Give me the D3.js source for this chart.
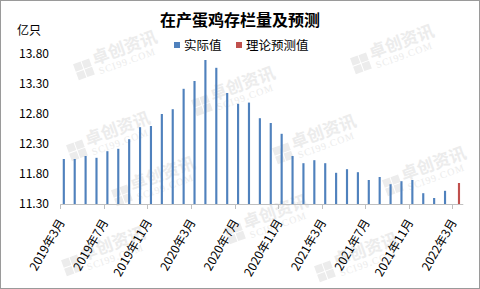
<!DOCTYPE html>
<html>
<head>
<meta charset="utf-8">
<script src="https://cdn.jsdelivr.net/npm/d3@7"></script>
<style>
  body { margin: 0; background: #fff; }
  svg { display: block; }
</style>
</head>
<body>
<div id="chart"></div>
<script>
// data
var months = [];
for (var y = 2019; y <= 2022; y++) {
  for (var m = 1; m <= 12; m++) {
    if ((y == 2019 && m < 3) || (y == 2022 && m > 3)) continue;
    months.push(y + "年" + m + "月");
  }
}
var actualValues = [12.05, 12.05, 12.10, 12.07, 12.18, 12.22, 12.38, 12.58, 12.60, 12.80,
  12.88, 13.22, 13.35, 13.70, 13.57, 13.15, 12.97, 12.99, 12.73, 12.65,
  12.47, 12.10, 11.98, 12.03, 11.98, 11.82, 11.88, 11.83, 11.70, 11.75,
  11.63, 11.68, 11.70, 11.48, 11.40, 11.52, null];
var forecastValues = [];
for (var i = 0; i < 36; i++) forecastValues.push(null);
forecastValues.push(11.65);
var seriesNames = ["实际值", "理论预测值"];
var seriesColors = ["#4f81bd", "#c0504d"];
var yTicks = [11.30, 11.80, 12.30, 12.80, 13.30, 13.80];

var width = 480, height = 289;
var font = "'Noto Sans CJK SC', 'Noto Sans', sans-serif";

var svg = d3.select("#chart").append("svg")
  .attr("width", width)
  .attr("height", height)
  .style("font-family", font);

svg.append("rect")
  .attr("x", 0.5).attr("y", 0.5)
  .attr("width", width - 1).attr("height", height - 1)
  .attr("fill", "#fff")
  .attr("stroke", "#9a9a9a");

// faint watermarks (only the ones fully inside the frame)
var marks = [[119, 56], [396, 50], [237, 92], [112, 137], [318, 140],
  [157, 182], [428, 172], [270, 220], [107, 252], [360, 258]];
var wm = svg.append("g").attr("fill", "#ececec");
marks.forEach(function(p) {
  var g = wm.append("g").attr("transform", "translate(" + p[0] + "," + p[1] + ") rotate(-20)");
  [[0, 0], [9, 0], [0, 9], [9, 9]].forEach(function(s) {
    g.append("rect").attr("x", -46 + s[0]).attr("y", -8 + s[1]).attr("width", 8).attr("height", 8);
  });
  g.append("text").attr("x", -26).attr("y", 0)
    .style("font-size", "17px").style("font-weight", "bold").text("卓创资讯");
  g.append("text").attr("x", -24).attr("y", 11)
    .style("font-size", "10px").style("font-family", "'Liberation Serif', serif")
    .style("letter-spacing", "1px").text("SCI99.COM");
});

var x = d3.scaleBand()
  .domain(months)
  .range([60.3, 463.3])
  .paddingInner(0).paddingOuter(0);

var xSeries = d3.scaleBand()
  .domain(seriesNames)
  .range([x.bandwidth() / 2 - 3, x.bandwidth() / 2 + 2.2])
  .paddingInner(0.3).paddingOuter(0);

var yScale = d3.scaleLinear()
  .domain([11.3, 13.8])
  .range([204, 54]);

// title
svg.append("text")
  .attr("x", 240).attr("y", 26)
  .attr("text-anchor", "middle")
  .style("font-size", "16px").style("font-weight", "bold")
  .attr("fill", "#000")
  .text("在产蛋鸡存栏量及预测");

svg.append("text")
  .attr("x", 17).attr("y", 35)
  .style("font-size", "12px")
  .text("亿只");

// legend
var legend = svg.append("g");
var legendX = [174, 236];
seriesNames.forEach(function(name, k) {
  legend.append("rect")
    .attr("x", legendX[k]).attr("y", 42)
    .attr("width", 6).attr("height", 6)
    .attr("fill", seriesColors[k]);
  legend.append("text")
    .attr("x", legendX[k] + 10).attr("y", 49.5)
    .style("font-size", "12.5px")
    .text(name);
});

// y axis labels (no line)
var yAxis = d3.axisLeft(yScale).tickValues(yTicks).tickSize(0).tickPadding(0)
  .tickFormat(d3.format(".2f"));
var yg = svg.append("g").attr("transform", "translate(49,0)").call(yAxis);
yg.select(".domain").remove();
yg.selectAll("text")
  .style("font-size", "12px")
  .style("font-family", font)
  .attr("fill", "#000");

// bars
var series = [actualValues, forecastValues];
series.forEach(function(vals, k) {
  var rows = months.map(function(mo, j) { return { m: mo, v: vals[j] }; })
    .filter(function(d) { return d.v != null; });
  svg.append("g").selectAll("rect")
    .data(rows)
    .enter().append("rect")
    .attr("x", function(d) { return x(d.m) + xSeries(seriesNames[k]); })
    .attr("width", xSeries.bandwidth())
    .attr("y", function(d) { return yScale(d.v); })
    .attr("height", function(d) { return yScale(11.3) - yScale(d.v); })
    .attr("fill", seriesColors[k]);
});

// x axis
var axisG = svg.append("g");
axisG.append("line")
  .attr("x1", x.range()[0]).attr("x2", x.range()[1])
  .attr("y1", 204.5).attr("y2", 204.5)
  .attr("stroke", "#c0c0c0");
var tickIdx = d3.range(0, months.length, 4);
axisG.selectAll("line.tick")
  .data(tickIdx)
  .enter().append("line")
  .attr("class", "tick")
  .attr("x1", function(i) { return Math.round(x(months[i])) + 0.5; })
  .attr("x2", function(i) { return Math.round(x(months[i])) + 0.5; })
  .attr("y1", 204.5).attr("y2", 209)
  .attr("stroke", "#c0c0c0");
axisG.selectAll("text")
  .data(tickIdx)
  .enter().append("text")
  .attr("text-anchor", "end")
  .attr("transform", function(i) {
    var cx = x(months[i]) + x.bandwidth() / 2 - 0.5;
    return "translate(" + cx + ",222) rotate(-60)";
  })
  .style("font-size", "12px")
  .attr("fill", "#000")
  .text(function(i) { return months[i]; });
</script>
</body>
</html>
